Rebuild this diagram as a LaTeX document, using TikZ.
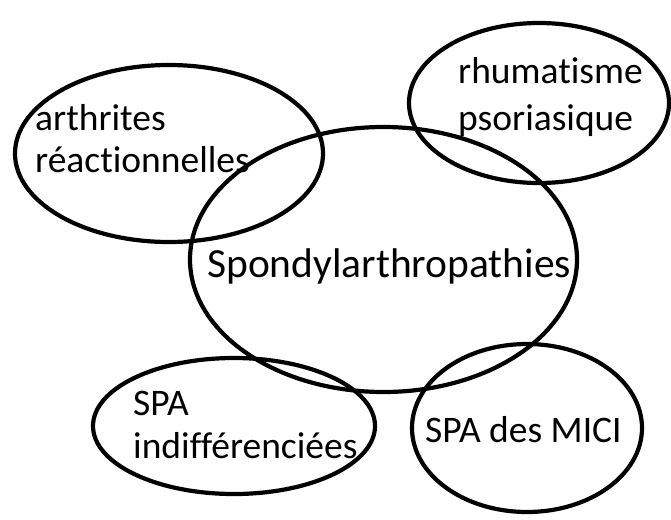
\documentclass[tikz,border=0pt]{standalone}
\usepackage{fontspec}
\setmainfont{Carlito}[Ligatures=NoCommon]
\usepackage{tikz}

\begin{document}
\begin{tikzpicture}[x=1pt,y=-1pt,
   blob/.style={line width=4.2pt},
   lbl/.style={anchor=base west,inner sep=0pt,text=black,font=\fontsize{37.5}{45}\selectfont}]
   \useasboundingbox (0,0) rectangle (671,519);

   % the five groups
   \draw[blob] (383.5,259.5) ellipse (193.5 and 132.5);
   \draw[blob] (169,153.5) ellipse (154 and 88.5);
   \draw[blob] (539,103) ellipse (130 and 80);
   \draw[blob] (234,426) ellipse (141 and 68);
   \draw[blob] (527,428) ellipse (115 and 84);

   \node[lbl,font=\fontsize{41.5}{45}\selectfont] (spa) at (207,277) {Spondylarthropathies};
   \node[lbl] (arth) at (35,130) {arthrites};
   \node[lbl] (reac) at (35,172) {réactionnelles};
   \node[lbl] (rhum) at (458,83) {rhumatisme};
   \node[lbl] (psor) at (458,130) {psoriasique};
   \node[lbl] (spai) at (133,415) {SPA};
   \node[lbl] (indf) at (133,458) {indifférenciées};
   \node[lbl] (mici) at (425,442) {SPA des MICI};
 \end{tikzpicture}
\end{document}
